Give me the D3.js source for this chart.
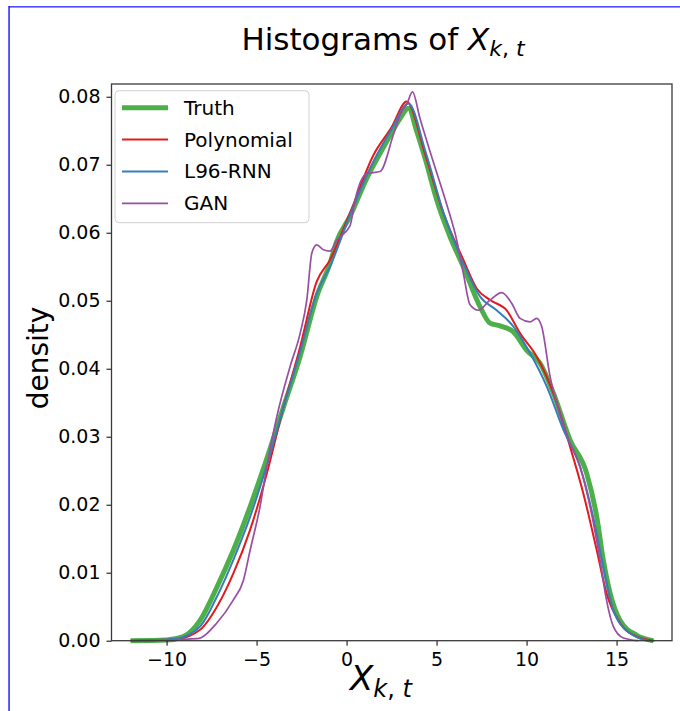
<!DOCTYPE html>
<html>
<head>
<meta charset="utf-8">
<script src="https://cdn.jsdelivr.net/npm/d3@7"></script>
<style>
body { margin: 0; background: #fff; }
svg { font-family: "DejaVu Sans", sans-serif; }
</style>
</head>
<body>
<div id="chart"></div>
<script>
// values (x value, density)
let truthX = [-12, -10, -9.07, -8.14, -7.2, -6.29, -5.36, -4.43, -3.5, -2.58, -1.66, -0.92, -0.55, 0.19, 1.12, 2.23, 2.97, 3.44, 3.9, 4.4, 5.01, 5.75, 6.49, 7.42, 7.97, 8.53, 9.27, 10.01, 10.75, 11.49, 12.42, 13.34, 13.9, 14.26, 14.64, 15.19, 16.12, 17.04];
let truthY = [0, 0.0001, 0.0006, 0.003, 0.0079, 0.0133, 0.0197, 0.0268, 0.0344, 0.0418, 0.0506, 0.0555, 0.0587, 0.0624, 0.068, 0.0734, 0.0768, 0.0783, 0.0749, 0.0706, 0.0648, 0.0594, 0.055, 0.0491, 0.0467, 0.0463, 0.0454, 0.0427, 0.0408, 0.0364, 0.0295, 0.0246, 0.0182, 0.0119, 0.007, 0.003, 0.0008, 0];

let polyX = [-12, -9.5, -8.14, -7.2, -6.29, -5.36, -4.43, -3.5, -2.58, -1.66, -0.92, 0.19, 1.49, 2.5, 3.34, 4.4, 5.38, 6.49, 7.23, 7.97, 8.89, 9.64, 10.56, 11.49, 12.42, 13.15, 13.9, 14.44, 15.19, 16.12, 17.1];
let polyY = [0, 0.0002, 0.0016, 0.005, 0.0099, 0.0163, 0.0246, 0.0344, 0.0432, 0.0528, 0.056, 0.0629, 0.0714, 0.0755, 0.0793, 0.0712, 0.0629, 0.056, 0.0518, 0.0501, 0.0486, 0.0452, 0.0418, 0.0364, 0.0285, 0.0217, 0.0133, 0.007, 0.0026, 0.0006, 0];

let rnnX = [-12, -9.5, -8.14, -7.2, -6.29, -5.36, -4.43, -3.5, -2.58, -1.66, -0.92, 0.19, 1.5, 2.5, 3.44, 4.4, 5.38, 6.49, 7.42, 8.34, 9.27, 10.19, 11.12, 12.05, 12.97, 13.7, 14.26, 14.82, 15.75, 16.8];
let rnnY = [0, 0.0003, 0.0021, 0.0065, 0.0119, 0.0182, 0.0258, 0.0344, 0.0425, 0.0511, 0.055, 0.0626, 0.0705, 0.0752, 0.079, 0.0718, 0.063, 0.0555, 0.0506, 0.0486, 0.0462, 0.0423, 0.0374, 0.031, 0.0256, 0.0182, 0.0109, 0.0045, 0.0011, 0];

let ganX = [-12, -8.3, -7.21, -6.29, -5.73, -5.36, -4.81, -4.43, -3.88, -3.14, -2.58, -2.21, -1.93, -1.66, -1.29, -0.92, -0.55, 0.19, 0.47, 1.12, 1.86, 2.6, 3.0, 3.36, 3.66, 4.08, 4.82, 5.57, 6.12, 6.49, 6.86, 7.32, 7.97, 8.62, 9.18, 9.64, 10.19, 10.56, 10.84, 11.31, 11.86, 12.42, 12.97, 13.53, 14.08, 14.44, 14.82, 15.38, 16.2];
let ganY = [0, 0.0003, 0.0026, 0.006, 0.0089, 0.0133, 0.0197, 0.0256, 0.0329, 0.0403, 0.0452, 0.0501, 0.057, 0.0582, 0.0575, 0.0573, 0.0589, 0.061, 0.0648, 0.0687, 0.069, 0.0744, 0.0775, 0.079, 0.0807, 0.0768, 0.0704, 0.0641, 0.0589, 0.054, 0.0494, 0.0486, 0.0501, 0.0512, 0.0496, 0.0474, 0.0469, 0.0474, 0.0462, 0.0388, 0.0334, 0.029, 0.0256, 0.0197, 0.0119, 0.006, 0.0021, 0.0004, 0];

let seriesNames = ['Truth', 'Polynomial', 'L96-RNN', 'GAN'];
let xTicks = [-10, -5, 0, 5, 10, 15];
let yTicks = [0, 0.01, 0.02, 0.03, 0.04, 0.05, 0.06, 0.07, 0.08];

let width = 680, height = 711;
let margin = {top: 84, right: 8, bottom: 70.3, left: 111.5};

let svg = d3.select('#chart').append('svg')
    .attr('width', width)
    .attr('height', height);

// blue frame around the figure
svg.append('rect').attr('x', 9).attr('y', 6).attr('width', width - 9).attr('height', 1.6).attr('fill', '#4d4dff');
svg.append('rect').attr('x', 8.4).attr('y', 6).attr('width', 1.3).attr('height', height - 6).attr('fill', '#0000ff');

let xScale = d3.scaleLinear()
    .domain([-13.06, 18.08])
    .range([margin.left, width - margin.right]);
let yScale = d3.scaleLinear()
    .domain([0, 0.08187])
    .range([height - margin.bottom, margin.top]);

let series = [
    {name: seriesNames[0], xs: truthX, ys: truthY, color: '#4daf4a', w: 5},
    {name: seriesNames[1], xs: polyX, ys: polyY, color: '#e41a1c', w: 2},
    {name: seriesNames[2], xs: rnnX, ys: rnnY, color: '#377eb8', w: 2},
    {name: seriesNames[3], xs: ganX, ys: ganY, color: '#984ea3', w: 1.7}
];

let line = d3.line()
    .x(d => xScale(d[0]))
    .y(d => yScale(d[1]))
    .curve(d3.curveMonotoneX);

let lines = svg.append('g').classed('lines', true);
series.forEach(s => {
    lines.append('path')
        .datum(s.xs.map((v, i) => [v, s.ys[i]]))
        .attr('d', line)
        .attr('fill', 'none')
        .attr('stroke', s.color)
        .attr('stroke-width', s.w)
        .attr('stroke-linejoin', 'round');
});

// axes
let xAxis = d3.axisBottom(xScale).tickValues(xTicks).tickSize(5).tickPadding(7).tickFormat(d3.format('d'));
let yAxis = d3.axisLeft(yScale).tickValues(yTicks).tickSize(5).tickPadding(6).tickFormat(d3.format('.2f'));

let gx = svg.append('g').attr('transform', 'translate(0,' + (height - margin.bottom) + ')').call(xAxis);
let gy = svg.append('g').attr('transform', 'translate(' + margin.left + ',0)').call(yAxis);
[gx, gy].forEach(g => {
    g.select('.domain').remove();
    g.selectAll('line').attr('stroke', '#000').attr('stroke-width', 1);
    g.selectAll('text').attr('font-size', 19).attr('fill', '#000').attr('font-family', '"DejaVu Sans", sans-serif');
});

svg.append('rect')
    .attr('x', margin.left)
    .attr('y', margin.top)
    .attr('width', width - margin.right - margin.left)
    .attr('height', height - margin.bottom - margin.top)
    .attr('fill', 'none')
    .attr('stroke', '#3a3a3a')
    .attr('stroke-width', 1.3);

// legend
let legend = svg.append('g').attr('transform', 'translate(115,90.7)');
legend.append('rect')
    .attr('width', 194)
    .attr('height', 132)
    .attr('rx', 4)
    .attr('fill', '#fff')
    .attr('fill-opacity', 0.8)
    .attr('stroke', '#d0d0d0');
series.forEach((s, i) => {
    let ly = 17 + i * 31.9;
    legend.append('line')
        .attr('x1', 7).attr('x2', 53)
        .attr('y1', ly).attr('y2', ly)
        .attr('stroke', s.color)
        .attr('stroke-width', s.w);
    legend.append('text')
        .attr('x', 69)
        .attr('y', ly)
        .attr('dy', '0.35em')
        .attr('font-size', 20)
        .text(s.name);
});

// title
let title = svg.append('text')
    .attr('x', 383)
    .attr('y', 50)
    .attr('text-anchor', 'middle')
    .attr('font-size', 31);
title.append('tspan').text('Histograms of ');
title.append('tspan').attr('font-style', 'italic').text('X');
title.append('tspan').attr('font-size', 22).attr('dy', 6).attr('font-style', 'italic').text('k');
title.append('tspan').attr('font-size', 22).text(', ');
title.append('tspan').attr('font-size', 22).attr('font-style', 'italic').text('t');

// x label
let xlab = svg.append('text')
    .attr('x', 381)
    .attr('y', 690)
    .attr('text-anchor', 'middle')
    .attr('font-size', 34);
xlab.append('tspan').attr('font-style', 'italic').text('X');
xlab.append('tspan').attr('font-size', 24).attr('dy', 7).attr('font-style', 'italic').text('k');
xlab.append('tspan').attr('font-size', 24).text(', ');
xlab.append('tspan').attr('font-size', 24).attr('font-style', 'italic').text('t');

// y label
svg.append('text')
    .attr('transform', 'translate(48,358) rotate(-90)')
    .attr('text-anchor', 'middle')
    .attr('font-size', 28)
    .text('density');
</script>
</body>
</html>
